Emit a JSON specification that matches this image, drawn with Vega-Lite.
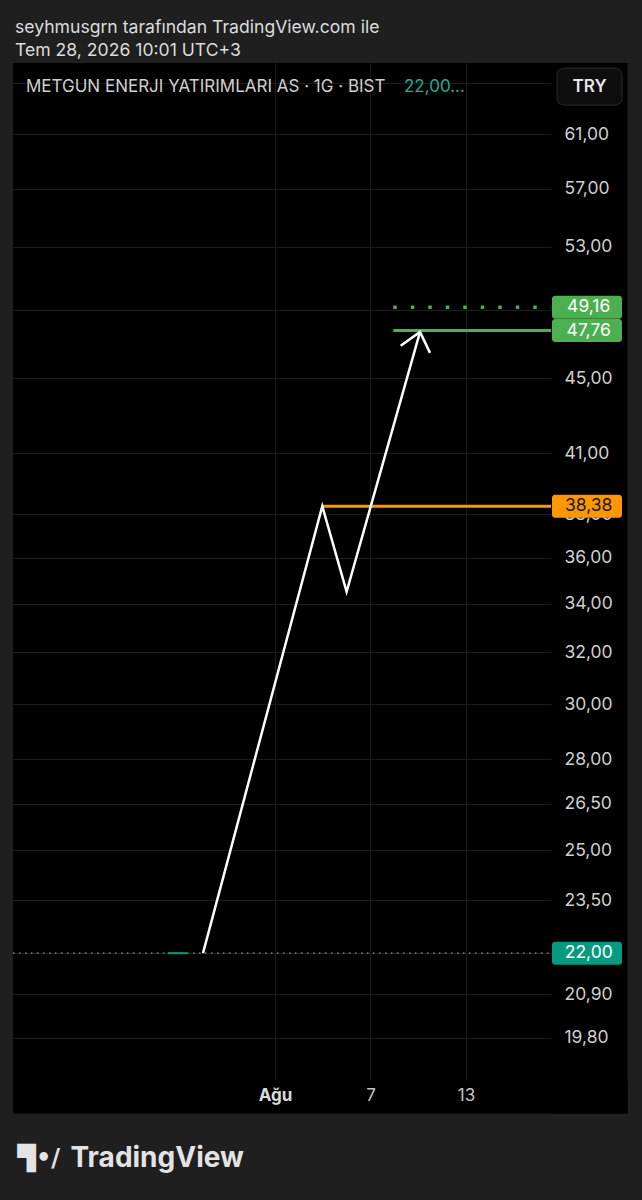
{
  "$schema": "https://vega.github.io/schema/vega-lite/v6.json",
  "width": 614,
  "height": 1050,
  "autosize": {"type": "none"},
  "padding": {"left": 13, "top": 63, "right": 15, "bottom": 87},
  "background": "#1f1f1f",
  "config": {"view": {"fill": "#000000", "stroke": null}, "font": "Inter"},
  "title": {
    "text": "seyhmusgrn tarafından TradingView.com ile",
    "subtitle": "Tem 28, 2026 10:01 UTC+3",
    "anchor": "start", "frame": "group", "orient": "top",
    "font": "Inter", "fontSize": 17.6, "fontWeight": "normal", "color": "#dcdcdc",
    "subtitleFont": "Inter", "subtitleFontSize": 17.6, "subtitleColor": "#dcdcdc", "subtitlePadding": 6,
    "offset": 3, "dx": 2
  },
  "datasets": {
    "cizim": [
      {"parca": "ok", "sira": 1, "tarih": "2026-07-27T11:27:00Z", "fiyat": 22.00},
      {"parca": "ok", "sira": 2, "tarih": "2026-08-03T23:20:00Z", "fiyat": 38.38},
      {"parca": "ok", "sira": 3, "tarih": "2026-08-05T12:00:00Z", "fiyat": 34.50},
      {"parca": "ok", "sira": 4, "tarih": "2026-08-10T02:40:00Z", "fiyat": 47.68},
      {"parca": "uc", "sira": 1, "tarih": "2026-08-08T21:32:00Z", "fiyat": 46.86},
      {"parca": "uc", "sira": 2, "tarih": "2026-08-10T02:40:00Z", "fiyat": 47.68},
      {"parca": "uc", "sira": 3, "tarih": "2026-08-10T17:43:00Z", "fiyat": 46.45}
    ],
    "seviyeler": [
      {"tur": "son", "fiyat": 22.00, "tarih": "2026-07-15T13:00:00Z", "bitis": "2026-08-18T08:10:00Z"},
      {"tur": "kapanis", "fiyat": 22.00, "tarih": "2026-07-25T06:43:00Z", "bitis": "2026-07-26T12:43:00Z"},
      {"tur": "direnc", "fiyat": 38.38, "tarih": "2026-08-03T23:20:00Z", "bitis": "2026-08-18T08:10:00Z"},
      {"tur": "hedef1", "fiyat": 47.76, "tarih": "2026-08-08T10:20:00Z", "bitis": "2026-08-18T08:10:00Z"},
      {"tur": "hedef2", "fiyat": 49.16, "tarih": "2026-08-08T10:20:00Z", "bitis": "2026-08-18T08:10:00Z"}
    ],
    "etiketler": [
      {"tur": "hedef2", "fiyat": 49.16, "metin": "49,16"},
      {"tur": "hedef1", "fiyat": 47.76, "metin": "47,76"},
      {"tur": "direnc", "fiyat": 38.38, "metin": "38,38"},
      {"tur": "son", "fiyat": 22.00, "metin": "22,00"}
    ],
    "baslik": [
      {"tur": "sembol", "metin": "METGUN ENERJI YATIRIMLARI AS · 1G · BIST"},
      {"tur": "fiyat", "metin": "22,00..."},
      {"tur": "para", "metin": "TRY"}
    ]
  },
  "resolve": {"axis": {"x": "independent", "y": "independent"}},
  "layer": [
    {
      "data": {"name": "seviyeler"},
      "transform": [{"filter": "datum.tur == 'son'"}],
      "mark": {"type": "rule", "color": "#9a9a9a", "strokeWidth": 1.2, "strokeDash": [1.5, 4.5]},
      "encoding": {
        "x": {
          "field": "tarih", "type": "temporal",
          "scale": {"type": "utc", "nice": false, "domain": [
            {"year": 2026, "month": 7, "date": 15, "hours": 13, "utc": true},
            {"year": 2026, "month": 8, "date": 23, "hours": 2, "minutes": 45, "utc": true}
          ]},
          "axis": {
            "orient": "bottom", "offset": -16.5,
            "values": [
              {"year": 2026, "month": 8, "date": 1, "utc": true},
              {"year": 2026, "month": 8, "date": 7, "utc": true},
              {"year": 2026, "month": 8, "date": 13, "utc": true}
            ],
            "labels": false, "ticks": false, "tickSize": 0,
            "domain": true, "domainColor": "#000000", "domainWidth": 33,
            "grid": true, "gridColor": "#1c1c1c", "gridWidth": 1,
            "title": "TradingView", "titleFont": "Inter", "titleFontSize": 28, "titleFontWeight": "bold", "titleColor": "#e3e3e3",
            "titleX": 57, "titleY": 62, "titleAlign": "left", "titleBaseline": "middle"
          }
        },
        "x2": {"field": "bitis"},
        "y": {
          "field": "fiyat", "type": "quantitative",
          "scale": {"type": "log", "domain": [18.03, 66.64], "nice": false, "zero": false},
          "axis": {
            "orient": "right", "offset": -38,
            "values": [65, 61, 57, 53, 49, 45, 41, 38, 36, 34, 32, 30, 28, 26.5, 25, 23.5, 22, 20.9, 19.8],
            "labels": false, "ticks": false, "tickSize": 0,
            "domain": true, "domainColor": "#000000", "domainWidth": 76,
            "grid": true, "gridColor": "#1c1c1c", "gridWidth": 1,
            "title": "▜•/", "titleFont": "DejaVu Sans", "titleFontSize": 24, "titleFontWeight": "bold", "titleColor": "#e3e3e3",
            "titleAngle": 0, "titleX": -572, "titleY": 1095, "titleAlign": "left", "titleBaseline": "middle"
          }
        }
      }
    },
    {
      "data": {"name": "seviyeler"},
      "transform": [{"filter": "datum.tur == 'kapanis'"}],
      "mark": {"type": "rule", "color": "#089981", "strokeWidth": 2},
      "encoding": {
        "x": {
          "field": "tarih", "type": "temporal",
          "axis": {
            "orient": "bottom", "offset": -16.5,
            "values": [
              {"year": 2026, "month": 8, "date": 1, "utc": true},
              {"year": 2026, "month": 8, "date": 7, "utc": true},
              {"year": 2026, "month": 8, "date": 13, "utc": true}
            ],
            "labelExpr": "utcdate(datum.value) == 1 ? 'Ağu' : '' + utcdate(datum.value)",
            "labelFontWeight": {"condition": {"test": "utcdate(datum.value) == 1", "value": "bold"}, "value": "normal"},
            "labelColor": {"condition": {"test": "utcdate(datum.value) == 1", "value": "#dadada"}, "value": "#c4c4c4"},
            "labelFont": "Inter", "labelFontSize": 17, "labelBaseline": "middle", "labelAlign": "center", "labelPadding": -1,
            "labelOverlap": false, "labelFlush": false, "labelBound": false,
            "ticks": false, "tickSize": 0, "domain": false, "grid": false, "title": null
          }
        },
        "x2": {"field": "bitis"},
        "y": {
          "field": "fiyat", "type": "quantitative",
          "axis": {
            "orient": "right", "offset": -38,
            "values": [61, 57, 53, 45, 41, 38, 36, 34, 32, 30, 28, 26.5, 25, 23.5, 20.9, 19.8],
            "labelExpr": "replace(format(datum.value, '.2f'), '.', ',')",
            "labelFont": "Inter", "labelFontSize": 17.5, "labelColor": "#cfcfcf",
            "labelAlign": "left", "labelBaseline": "middle", "labelPadding": -25,
            "labelOverlap": false, "labelFlush": false, "labelBound": false,
            "ticks": false, "tickSize": 0, "domain": false, "grid": false, "title": null
          }
        }
      }
    },
    {
      "data": {"name": "seviyeler"},
      "transform": [{"filter": "datum.tur == 'direnc'"}],
      "mark": {"type": "rule", "color": "#ff9800", "strokeWidth": 3},
      "encoding": {
        "x": {"field": "tarih", "type": "temporal", "axis": null},
        "x2": {"field": "bitis"},
        "y": {"field": "fiyat", "type": "quantitative", "axis": null}
      }
    },
    {
      "data": {"name": "seviyeler"},
      "transform": [{"filter": "datum.tur == 'hedef1'"}],
      "mark": {"type": "rule", "color": "#4caf50", "strokeWidth": 3},
      "encoding": {
        "x": {"field": "tarih", "type": "temporal", "axis": null},
        "x2": {"field": "bitis"},
        "y": {"field": "fiyat", "type": "quantitative", "axis": null}
      }
    },
    {
      "data": {"name": "seviyeler"},
      "transform": [{"filter": "datum.tur == 'hedef2'"}],
      "mark": {"type": "rule", "color": "#4caf50", "strokeWidth": 3.5, "strokeDash": [3.5, 14], "strokeCap": "butt"},
      "encoding": {
        "x": {"field": "tarih", "type": "temporal", "axis": null},
        "x2": {"field": "bitis"},
        "y": {"field": "fiyat", "type": "quantitative", "axis": null}
      }
    },
    {
      "data": {"name": "cizim"},
      "mark": {"type": "line", "color": "#ffffff", "strokeWidth": 2.5, "strokeJoin": "miter"},
      "encoding": {
        "x": {"field": "tarih", "type": "temporal", "axis": null},
        "y": {"field": "fiyat", "type": "quantitative", "axis": null},
        "detail": {"field": "parca"},
        "order": {"field": "sira"}
      }
    },
    {
      "data": {"name": "etiketler"},
      "mark": {"type": "rect", "height": 23, "cornerRadius": 3},
      "encoding": {
        "x": {"datum": {"year": 2026, "month": 8, "date": 18, "hours": 9, "minutes": 40, "utc": true}, "type": "temporal", "axis": null},
        "x2": {"datum": {"year": 2026, "month": 8, "date": 22, "hours": 19, "minutes": 12, "utc": true}},
        "y": {"field": "fiyat", "type": "quantitative", "axis": null},
        "color": {"field": "tur", "type": "nominal", "legend": null,
          "scale": {"domain": ["hedef2", "hedef1", "direnc", "son"], "range": ["#4caf50", "#4caf50", "#ff9800", "#089981"]}}
      }
    },
    {
      "data": {"name": "etiketler"},
      "mark": {"type": "text", "align": "center", "baseline": "middle", "font": "Inter", "fontSize": 17.5},
      "encoding": {
        "x": {"datum": {"year": 2026, "month": 8, "date": 20, "hours": 17, "minutes": 2, "utc": true}, "type": "temporal", "axis": null},
        "y": {"field": "fiyat", "type": "quantitative", "axis": null},
        "text": {"field": "metin"},
        "color": {"condition": {"test": "datum.tur == 'direnc'", "value": "#1a1a1a"}, "value": "#ffffff"}
      }
    },
    {
      "data": {"name": "baslik"},
      "transform": [{"filter": "datum.tur == 'para'"}],
      "mark": {"type": "rect", "width": 65, "height": 37, "cornerRadius": 7, "fill": "#0e0e0e", "stroke": "#2c2c2c", "strokeWidth": 1},
      "encoding": {
        "x": {"datum": {"year": 2026, "month": 8, "date": 20, "hours": 18, "minutes": 14, "utc": true}, "type": "temporal", "axis": null},
        "y": {"datum": 64.71, "type": "quantitative", "axis": null}
      }
    },
    {
      "data": {"name": "baslik"},
      "transform": [{"filter": "datum.tur == 'para'"}],
      "mark": {"type": "text", "align": "center", "baseline": "middle", "font": "Inter", "fontSize": 17, "fontWeight": 600, "color": "#e6e6e6"},
      "encoding": {
        "x": {"datum": {"year": 2026, "month": 8, "date": 20, "hours": 18, "minutes": 14, "utc": true}, "type": "temporal", "axis": null},
        "y": {"datum": 64.71, "type": "quantitative", "axis": null},
        "text": {"field": "metin"}
      }
    },
    {
      "data": {"name": "baslik"},
      "transform": [{"filter": "datum.tur == 'sembol'"}],
      "mark": {"type": "text", "align": "left", "baseline": "middle", "font": "Inter", "fontSize": 17, "color": "#cfcfcf"},
      "encoding": {
        "x": {"datum": {"year": 2026, "month": 7, "date": 16, "hours": 8, "minutes": 32, "utc": true}, "type": "temporal", "axis": null},
        "y": {"datum": 64.71, "type": "quantitative", "axis": null},
        "text": {"field": "metin"}
      }
    },
    {
      "data": {"name": "baslik"},
      "transform": [{"filter": "datum.tur == 'fiyat'"}],
      "mark": {"type": "text", "align": "left", "baseline": "middle", "font": "Inter", "fontSize": 17, "color": "#22ab94"},
      "encoding": {
        "x": {"datum": {"year": 2026, "month": 8, "date": 9, "hours": 2, "minutes": 31, "utc": true}, "type": "temporal", "axis": null},
        "y": {"datum": 64.71, "type": "quantitative", "axis": null},
        "text": {"field": "metin"}
      }
    }
  ]
}
